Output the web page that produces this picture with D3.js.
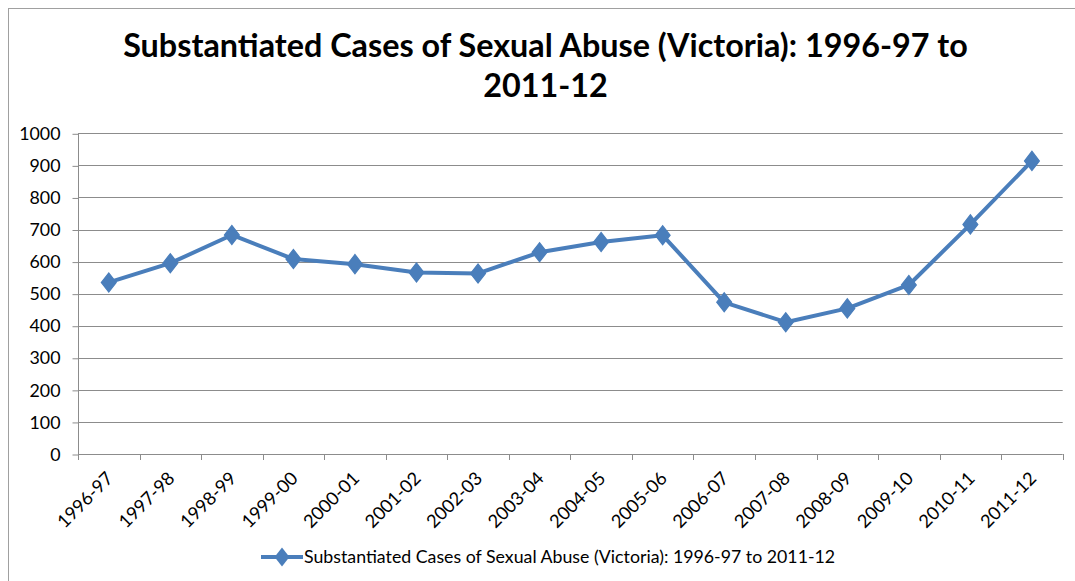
<!DOCTYPE html>
<html>
<head>
<meta charset="utf-8">
<script src="https://cdn.jsdelivr.net/npm/d3@7"></script>
<style>
  html, body { margin: 0; padding: 0; background: #fff; }
  svg { display: block; }
  text { font-family: Lato, "Open Sans", sans-serif; fill: #000; }
</style>
</head>
<body>
<svg id="chart" width="1075" height="581"></svg>
<script>
// Substantiated child sexual abuse cases, Victoria, by financial year
const years = ["1996-97","1997-98","1998-99","1999-00","2000-01","2001-02","2002-03","2003-04",
               "2004-05","2005-06","2006-07","2007-08","2008-09","2009-10","2010-11","2011-12"];
const cases = [535, 595, 683, 608, 592, 566, 563, 629, 661, 682, 473, 411, 454, 527, 716, 914];
const yTicks = [0, 100, 200, 300, 400, 500, 600, 700, 800, 900, 1000];
const titleLines = ["Substantiated Cases of Sexual Abuse (Victoria): 1996-97 to", "2011-12"];
const seriesName = "Substantiated Cases of Sexual Abuse (Victoria): 1996-97 to 2011-12";

const svg = d3.select("#chart");
const W = 1075, H = 581;
const blue = "#4a7ebb", grid = "#8c8c8c";
const plot = { left: 78, right: 1062.7, top: 133.3, bottom: 454 };

// chart area frame
svg.append("rect").attr("x", 8.5).attr("y", 8.5).attr("width", W).attr("height", H)
  .attr("fill", "none").attr("stroke", "#a0a0a0").attr("stroke-width", 1);

// fits a text element to a target width by adjusting its font size
function fitWidth(sel, target) {
  const node = sel.node();
  const fs = parseFloat(sel.attr("font-size"));
  const w = node.getComputedTextLength();
  sel.attr("font-size", (fs * target / w).toFixed(2));
}

// title
const t1 = svg.append("text").attr("x", (123 + 968) / 2).attr("y", 57)
  .attr("text-anchor", "middle").attr("font-weight", "bold").attr("font-size", 30)
  .text(titleLines[0]);
fitWidth(t1, 845);
svg.append("text").attr("x", (123 + 968) / 2).attr("y", 97)
  .attr("text-anchor", "middle").attr("font-weight", "bold").attr("font-size", t1.attr("font-size"))
  .text(titleLines[1]);

const x = d3.scaleBand().domain(years).range([plot.left, plot.right]);
const y = d3.scaleLinear().domain([0, 1000]).range([plot.bottom, plot.top]);

// horizontal gridlines
svg.append("g").selectAll("line").data(yTicks.filter(d => d > 0)).join("line")
  .attr("x1", plot.left).attr("x2", plot.right)
  .attr("y1", d => Math.round(y(d)) + 0.5).attr("y2", d => Math.round(y(d)) + 0.5)
  .attr("stroke", grid).attr("stroke-width", 1);

// y axis
const yAxis = svg.append("g").attr("transform", `translate(${Math.round(plot.left) + 0.5},0.5)`)
  .call(d3.axisLeft(y).tickValues(yTicks).tickSize(6).tickPadding(12).tickFormat(d3.format("d")));
yAxis.select(".domain").attr("stroke", grid).attr("d", `M0,${Math.round(plot.top)}V${Math.round(plot.bottom)}`);
yAxis.selectAll(".tick line").attr("stroke", grid);
yAxis.selectAll(".tick text").attr("font-family", "Lato, sans-serif").attr("font-size", 17.8).attr("fill", "#000");

// x axis with boundary tick marks between categories
const bounds = years.map(d => x(d)).concat([plot.right]);
const xg = svg.append("g");
xg.append("line").attr("x1", plot.left).attr("x2", plot.right)
  .attr("y1", Math.round(plot.bottom) + 0.5).attr("y2", Math.round(plot.bottom) + 0.5)
  .attr("stroke", grid);
xg.selectAll("line.tk").data(bounds).join("line").attr("class", "tk")
  .attr("x1", d => Math.round(d) + 0.5).attr("x2", d => Math.round(d) + 0.5)
  .attr("y1", Math.round(plot.bottom)).attr("y2", Math.round(plot.bottom) + 6)
  .attr("stroke", grid);
xg.selectAll("text").data(years).join("text")
  .attr("transform", d => `translate(${x(d) + x.bandwidth() / 2 + 1},${plot.bottom + 21}) rotate(-45)`)
  .attr("text-anchor", "end").attr("dy", "0.35em").attr("font-size", 18.2)
  .text(d => d);

// series line
const line = d3.line().x(d => x(d.year) + x.bandwidth() / 2).y(d => y(d.value));
const pts = years.map((yr, i) => ({ year: yr, value: cases[i] }));
svg.append("path").datum(pts).attr("d", line)
  .attr("fill", "none").attr("stroke", blue).attr("stroke-width", 4).attr("stroke-linejoin", "round");

const diamond = d3.symbol().type(d3.symbolDiamond).size(105);
svg.append("g").selectAll("path").data(pts).join("path")
  .attr("transform", d => `translate(${x(d.year) + x.bandwidth() / 2},${y(d.value)}) scale(1.35,1)`)
  .attr("d", diamond).attr("fill", blue).attr("stroke", blue).attr("stroke-width", 1);

// legend
const ly = 557;
svg.append("line").attr("x1", 261).attr("x2", 303).attr("y1", ly).attr("y2", ly)
  .attr("stroke", blue).attr("stroke-width", 4);
svg.append("path").attr("d", diamond).attr("transform", `translate(282,${ly}) scale(1.35,1)`)
  .attr("fill", blue);
const lt = svg.append("text").attr("x", 304).attr("y", ly).attr("dy", "0.35em")
  .attr("font-size", 16).text(seriesName);
fitWidth(lt, 531);
</script>
</body>
</html>
